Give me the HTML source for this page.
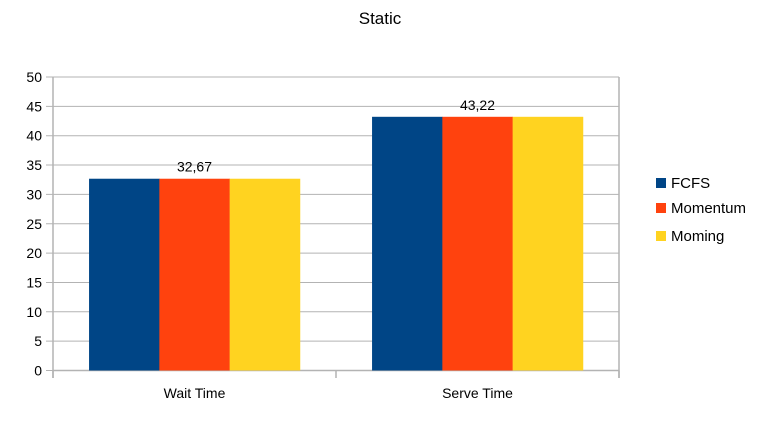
<!DOCTYPE html>
<html><head><meta charset="utf-8"><style>
body{margin:0;background:#fff;width:760px;height:417px;overflow:hidden;font-family:"Liberation Sans",sans-serif;}
</style></head><body>
<svg id="chart" width="760" height="417" xmlns="http://www.w3.org/2000/svg" font-family="Liberation Sans, sans-serif"></svg>
<script>
const categories = ["Wait Time", "Serve Time"];
const seriesNames = ["FCFS", "Momentum", "Moming"];
const fcfs = [32.67, 43.22];
const momentum = [32.67, 43.22];
const moming = [32.67, 43.22];
const yTicks = [0,5,10,15,20,25,30,35,40,45,50];
const labels = ["32,67", "43,22"];

const series=[fcfs,momentum,moming];
const colors=["#004586","#ff420e","#ffd320"];
const svg=document.getElementById('chart');
const NS="http://www.w3.org/2000/svg";
const x0=53,x1=619,y0=370.5,yTop=77,yMax=50;
const y=v=>y0-(v/yMax)*(y0-yTop);
const catW=(x1-x0)/categories.length;
function mk(tag,attrs,parent){const e=document.createElementNS(NS,tag);for(const k in attrs)e.setAttribute(k,attrs[k]);(parent||svg).appendChild(e);return e;}

let t=mk('text',{x:380,y:24,'text-anchor':'middle','font-size':17,fill:'#000'});t.textContent='Static';



yTicks.forEach(v=>{
  const l=mk('line',{x1:46,x2:x1,y1:y(v),y2:y(v),stroke:'#b3b3b3','stroke-width':1});
  
  
  const tx=mk('text',{x:42,y:y(v)+5,'text-anchor':'end','font-size':14,fill:'#000'});tx.textContent=v;
  
  
});
let ax=mk('line',{x1:x0,x2:x0,y1:yTop,y2:378,stroke:'#b3b3b3','stroke-width':1.5});


let rb=mk('line',{x1:x1,x2:x1,y1:yTop,y2:378,stroke:'#b3b3b3','stroke-width':1.5});


let xa=mk('line',{x1:x0,x2:x1,y1:y0,y2:y0,stroke:'#b3b3b3','stroke-width':1.5});


for(let i=0;i<=categories.length;i++){
  const tk=mk('line',{x1:x0+i*catW,x2:x0+i*catW,y1:y0,y2:378,stroke:'#b3b3b3','stroke-width':1.5});
  
  
}
const barW=70.3;
categories.forEach((c,ci)=>{
  const gx=x0+ci*catW+(catW-3*barW)/2;
  series.forEach((s,si)=>{
    const r=mk('rect',{x:gx+si*barW,y:y(s[ci]),width:barW+0.3,height:y0-y(s[ci]),fill:colors[si]});
    
    
  });
  const lb=mk('text',{x:gx+1.5*barW,y:y(series[1][ci])-7,'text-anchor':'middle','font-size':14,fill:'#000'});lb.textContent=labels[ci];
  
  
  const cl=mk('text',{x:x0+ci*catW+catW/2,y:398,'text-anchor':'middle','font-size':14,fill:'#000'});cl.textContent=c;
  
  
});
const ly=[183,208,236];
seriesNames.forEach((n,i)=>{
  const g=mk('g',{});
  
  
  mk('rect',{x:656,y:ly[i]-5,width:10,height:10,fill:colors[i]},g);
  const tx=mk('text',{x:671,y:ly[i]+5,'font-size':15,fill:'#000'},g);tx.textContent=n;
});
</script>
</body></html>
